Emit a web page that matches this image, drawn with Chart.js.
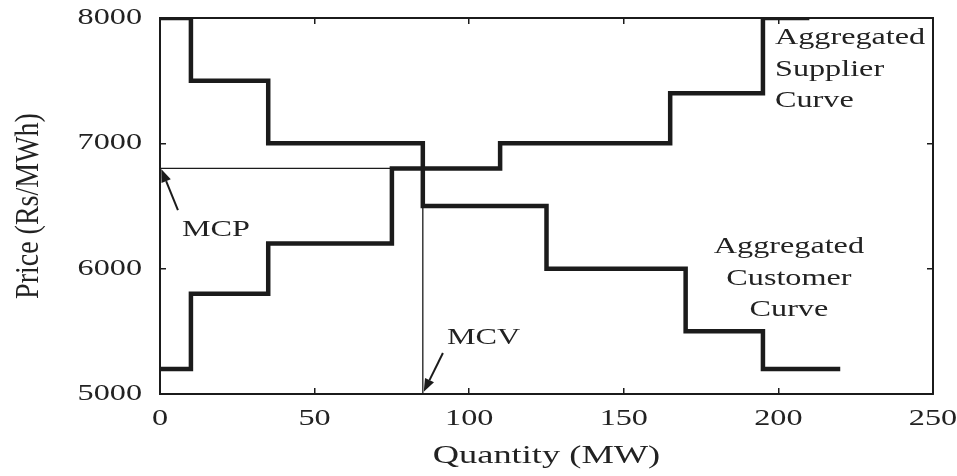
<!DOCTYPE html>
<html>
<head>
<meta charset="utf-8">
<script src="https://cdn.jsdelivr.net/npm/chart.js@4/dist/chart.umd.min.js"></script>
<style>
  html, body { margin: 0; padding: 0; background: #ffffff; }
  canvas { display: block; }
</style>
</head>
<body>
<canvas id="c" width="957" height="476"></canvas>
<script>
// ---- Data ----
const supplierQty   = [0, 10, 35, 75, 110, 165, 195, 210];
const supplierPrice = [5200, 5800, 6200, 6800, 7000, 7400, 8000, 8000];
const customerQty   = [0, 10, 35, 85, 125, 170, 195, 220];
const customerPrice = [8000, 7500, 7000, 6500, 6000, 5500, 5200, 5200];
const clearingQty   = [0, 85, 85];
const clearingPrice = [6800, 6800, 5000];
const xTicks = [0, 50, 100, 150, 200, 250];
const yTicks = [5000, 6000, 7000, 8000];

const INK = '#1b1b1b';
const SERIF = '"Liberation Serif", "Times New Roman", serif';
const STRETCH = 1.4;      // horizontal widening of the serif text, as in the reference
const STRETCH_ROT = 1.22;

const canvas = document.getElementById('c');
const ctx = canvas.getContext('2d');
const origFill = ctx.fillText.bind(ctx);
ctx.fillText = function (text, x, y) {
  const m = ctx.getTransform();
  const rotated = Math.abs(m.b) > 0.5;
  ctx.save();
  ctx.translate(x, y);
  if (rotated) ctx.scale(1, STRETCH_ROT); else ctx.scale(STRETCH, 1);
  origFill(text, 0, 0);
  ctx.restore();
};

const pts = (xs, ys) => xs.map((x, i) => ({ x: x, y: ys[i] }));

// annotation layout (data coordinates)
const notes = [
  { lines: ['MCP'], q: 7.1, p: [6308], align: 'left' },
  { lines: ['MCV'], q: 92.8, p: [5447], align: 'left' },
  { lines: ['Aggregated', 'Supplier', 'Curve'], q: 198.9, p: [7840, 7585, 7338], align: 'left' },
  { lines: ['Aggregated', 'Customer', 'Curve'], q: 203.4, p: [6170, 5915, 5668], align: 'center' }
];
const arrows = [
  { from: [5.8, 6468], to: [0.4, 6795] },
  { from: [91.5, 5327], to: [85.3, 5018] }
];

const annotate = {
  id: 'annotate',
  afterDatasetsDraw(chart) {
    const c = chart.ctx, xs = chart.scales.x, ys = chart.scales.y;
    c.save();
    c.fillStyle = '#222';
    c.font = '23px ' + SERIF;
    c.textBaseline = 'middle';
    notes.forEach(n => {
      c.textAlign = n.align;
      n.lines.forEach((t, i) => c.fillText(t, xs.getPixelForValue(n.q), ys.getPixelForValue(n.p[i])));
    });
    c.strokeStyle = INK;
    c.fillStyle = INK;
    c.lineWidth = 2;
    arrows.forEach(a => {
      const x1 = xs.getPixelForValue(a.from[0]), y1 = ys.getPixelForValue(a.from[1]);
      const x2 = xs.getPixelForValue(a.to[0]), y2 = ys.getPixelForValue(a.to[1]);
      const ang = Math.atan2(y2 - y1, x2 - x1);
      const L = 13, W = 5;
      const bx = x2 - L * Math.cos(ang), by = y2 - L * Math.sin(ang);
      c.beginPath(); c.moveTo(x1, y1); c.lineTo(bx, by); c.stroke();
      c.beginPath();
      c.moveTo(x2, y2);
      c.lineTo(bx + W * Math.sin(ang), by - W * Math.cos(ang));
      c.lineTo(bx - W * Math.sin(ang), by + W * Math.cos(ang));
      c.closePath(); c.fill();
    });
    c.restore();
  }
};

const tickFont = { family: SERIF, size: 23 };
const frameGrid = { drawOnChartArea: false, drawTicks: true, tickLength: -6, color: INK, lineWidth: 1.5 };
const frameBorder = { display: true, color: INK, width: 2 };
const plain = v => String(v);
const noPad = s => { s.paddingTop = 0; s.paddingBottom = 0; s.paddingLeft = 0; s.paddingRight = 0; };

new Chart(ctx, {
  type: 'line',
  data: {
    datasets: [
      { label: 'Aggregated Supplier Curve', data: pts(supplierQty, supplierPrice), stepped: 'before',
        borderColor: INK, borderWidth: 4.5, pointRadius: 0, borderJoinStyle: 'miter', borderCapStyle: 'butt', clip: 0 },
      { label: 'Aggregated Customer Curve', data: pts(customerQty, customerPrice), stepped: 'before',
        borderColor: INK, borderWidth: 4.5, pointRadius: 0, borderJoinStyle: 'miter', borderCapStyle: 'butt', clip: 0 },
      { label: 'MCP / MCV', data: pts(clearingQty, clearingPrice),
        borderColor: INK, borderWidth: 1.3, pointRadius: 0, tension: 0, clip: 0 }
    ]
  },
  options: {
    responsive: false,
    animation: false,
    events: [],
    layout: { padding: { left: 0, right: 24, top: 18, bottom: 0 } },
    plugins: { legend: { display: false }, tooltip: { enabled: false } },
    scales: {
      x: {
        type: 'linear', position: 'bottom', min: 0, max: 250,
        afterBuildTicks: s => { s.ticks = xTicks.map(v => ({ value: v })); },
        afterFit: s => { s.height = 82; noPad(s); },
        grid: frameGrid, border: frameBorder,
        ticks: { font: tickFont, color: '#222', padding: 17, maxRotation: 0, callback: plain },
        title: { display: true, text: 'Quantity (MW)', font: { family: SERIF, size: 26 }, color: '#222', padding: { top: 0, bottom: 4 } }
      },
      y: {
        type: 'linear', position: 'left', min: 5000, max: 8000,
        afterBuildTicks: s => { s.ticks = yTicks.map(v => ({ value: v })); },
        afterFit: s => { s.width = 160; noPad(s); },
        grid: frameGrid, border: frameBorder,
        ticks: { font: tickFont, color: '#222', padding: 24, callback: plain },
        title: { display: true, text: 'Price (Rs/MWh)', font: { family: SERIF, size: 28 }, color: '#222', padding: { top: 12, bottom: 0 } }
      },
      x2: {
        type: 'linear', position: 'top', min: 0, max: 250,
        afterBuildTicks: s => { s.ticks = xTicks.map(v => ({ value: v })); },
        afterFit: s => { s.height = 0; noPad(s); },
        grid: frameGrid, border: frameBorder,
        ticks: { display: false }
      },
      y2: {
        type: 'linear', position: 'right', min: 5000, max: 8000,
        afterBuildTicks: s => { s.ticks = yTicks.map(v => ({ value: v })); },
        afterFit: s => { s.width = 0; noPad(s); },
        grid: frameGrid, border: frameBorder,
        ticks: { display: false }
      }
    }
  },
  plugins: [annotate]
});
</script>
</body>
</html>
